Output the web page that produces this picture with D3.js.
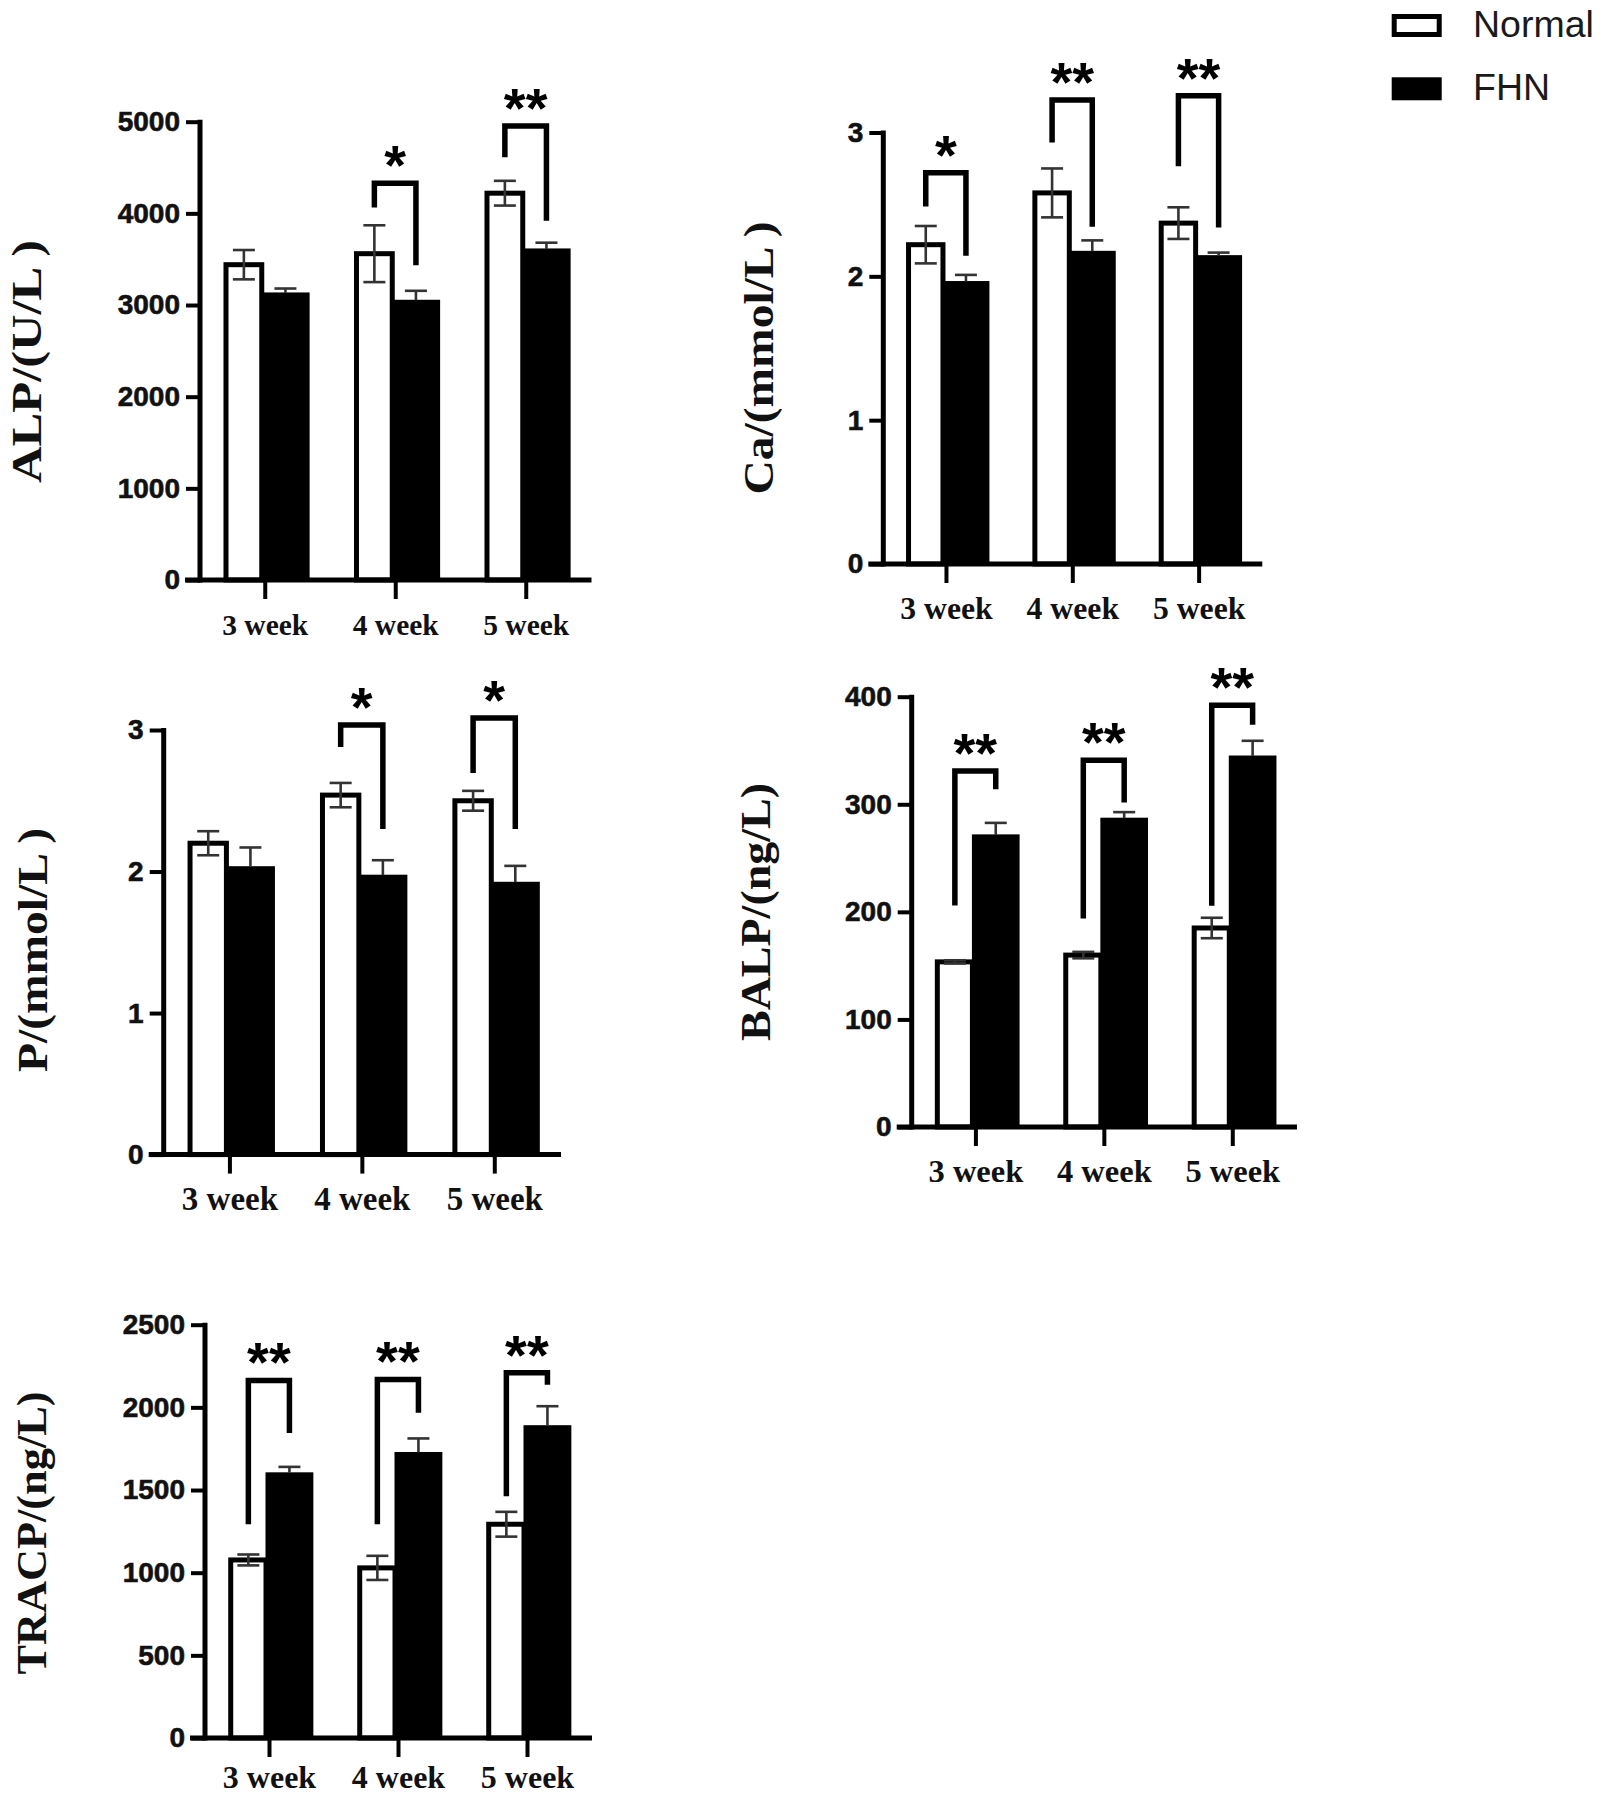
<!DOCTYPE html>
<html>
<head>
<meta charset="utf-8">
<script src="https://cdn.jsdelivr.net/npm/d3@7"></script>
<style>
  html, body { margin: 0; padding: 0; background: #fff; }
  svg { display: block; }
</style>
</head>
<body>
<div id="chart"></div>
<script>
// ---------- DATA ----------
const categories = ["3 week", "4 week", "5 week"];
const seriesNames = ["Normal", "FHN"];

const alpNormal = [3440, 3560, 4220];
const alpNormalErr = [160, 310, 135];
const alpFHN = [3110, 3030, 3590];
const alpFHNErr = [70, 125, 90];
const alpTicks = [0, 1000, 2000, 3000, 4000, 5000];
const alpSig = [
  { cat: 1, label: "*",  top: 4329, left: 4065, right: 3435 },
  { cat: 2, label: "**", top: 4953, left: 4611, right: 3920 }
];

const caNormal = [2.22, 2.58, 2.37];
const caNormalErr = [0.13, 0.17, 0.11];
const caFHN = [1.95, 2.16, 2.13];
const caFHNErr = [0.06, 0.09, 0.035];
const caTicks = [0, 1, 2, 3];
const caSig = [
  { cat: 0, label: "*",  top: 2.72,  left: 2.486, right: 2.143 },
  { cat: 1, label: "**", top: 3.226, left: 2.93,  right: 2.345 },
  { cat: 2, label: "**", top: 3.255, left: 2.765, right: 2.34 }
];

const pNormal = [2.20, 2.54, 2.50];
const pNormalErr = [0.085, 0.086, 0.07];
const pFHN = [2.02, 1.96, 1.91];
const pFHNErr = [0.15, 0.12, 0.13];
const pTicks = [0, 1, 2, 3];
const pSig = [
  { cat: 1, label: "*", top: 3.035, left: 2.88,  right: 2.3 },
  { cat: 2, label: "*", top: 3.084, left: 2.696, right: 2.3 }
];

const balpNormal = [153.5, 159.8, 185];
const balpNormalErr = [1.5, 3, 9.5];
const balpFHN = [269.7, 285.2, 343];
const balpFHNErr = [13, 7.5, 16];
const balpTicks = [0, 100, 200, 300, 400];
const balpSig = [
  { cat: 0, label: "**", top: 331, left: 206,   right: 314 },
  { cat: 1, label: "**", top: 341, left: 193.8, right: 301.7 },
  { cat: 2, label: "**", top: 392, left: 205.6, right: 374 }
];

const tracpNormal = [1077, 1029, 1293];
const tracpNormalErr = [33, 73, 75];
const tracpFHN = [1592, 1715, 1877];
const tracpFHNErr = [48, 97, 130];
const tracpTicks = [0, 500, 1000, 1500, 2000, 2500];
const tracpSig = [
  { cat: 0, label: "**", top: 2163, left: 1293, right: 1845 },
  { cat: 1, label: "**", top: 2169, left: 1293, right: 1968 },
  { cat: 2, label: "**", top: 2210, left: 1462, right: 2137 }
];

// ---------- PANELS (layout) ----------
const panels = [
  { title: "ALP/(U/L )", normal: alpNormal, nErr: alpNormalErr, fhn: alpFHN, fErr: alpFHNErr, ticks: alpTicks, sig: alpSig,
    x0: 200, x1: 591.5, yTop: 121.7, yBot: 580, lx: 26.5, ly: 361.5, lLen: 243, catFs: 29.5, catY: 55 },
  { title: "Ca/(mmol/L )", normal: caNormal, nErr: caNormalErr, fhn: caFHN, fErr: caFHNErr, ticks: caTicks, sig: caSig,
    x0: 883.3, x1: 1262.3, yTop: 132.5, yBot: 564, lx: 759, ly: 358, lLen: 273, catFs: 31.7, catY: 55 },
  { title: "P/(mmol/L )", normal: pNormal, nErr: pNormalErr, fhn: pFHN, fErr: pFHNErr, ticks: pTicks, sig: pSig,
    x0: 163.7, x1: 561, yTop: 730, yBot: 1154.6, lx: 33, ly: 950, lLen: 244, catFs: 33, catY: 55 },
  { title: "BALP/(ng/L)", normal: balpNormal, nErr: balpNormalErr, fhn: balpFHN, fErr: balpFHNErr, ticks: balpTicks, sig: balpSig,
    x0: 911.7, x1: 1297, yTop: 696.7, yBot: 1127, lx: 756, ly: 912, lLen: 258, catFs: 32.5, catY: 55 },
  { title: "TRACP/(ng/L)", normal: tracpNormal, nErr: tracpNormalErr, fhn: tracpFHN, fErr: tracpFHNErr, ticks: tracpTicks, sig: tracpSig,
    x0: 205, x1: 592, yTop: 1324.7, yBot: 1738, lx: 31.5, ly: 1533, lLen: 283, catFs: 32, catY: 50 }
];

const W = 1600, H = 1798;
const svg = d3.select("#chart").append("svg").attr("width", W).attr("height", H);

const AXIS_W = 5, YTICK = 14, XTICK = 19;
const sansBold = "'Liberation Sans', Arial, sans-serif";
const serif = "'Liberation Serif', 'Times New Roman', serif";

panels.forEach(p => {
  const g = svg.append("g");
  const y = d3.scaleLinear().domain([0, p.ticks[p.ticks.length - 1]]).range([p.yBot, p.yTop]);
  const x = d3.scaleBand().domain(categories).range([p.x0, p.x1]).paddingInner(0).paddingOuter(0);
  const step = x.step();
  const xs = d3.scaleBand().domain(seriesNames).range([-0.32 * step, 0.34 * step]);
  const bw = xs.bandwidth();
  const ctr = c => x(c) + x.bandwidth() / 2;

  // bar geometry (outer edges) per category
  const geom = c => {
    const t = ctr(c);
    const nL = t + xs("Normal"), nR = t - 1;
    const fL = t - 4, fR = t + xs("FHN") + bw;
    return { nL, nR, fL, fR, nC: (nL + nR) / 2, fC: (fL + fR) / 2 };
  };

  const SW = 5;
  categories.forEach((c, i) => {
    const gm = geom(c);
    const vn = p.normal[i], vf = p.fhn[i];
    g.append("rect")
      .attr("x", gm.nL + SW / 2).attr("y", y(vn) + SW / 2 - 2.5)
      .attr("width", gm.nR - gm.nL - SW).attr("height", y(0) - y(vn))
      .attr("fill", "#fff").attr("stroke", "#000").attr("stroke-width", SW);
    g.append("rect")
      .attr("x", gm.fL).attr("y", y(vf) - 2.5)
      .attr("width", gm.fR - gm.fL).attr("height", y(0) - y(vf) + 2.5)
      .attr("fill", "#000");

    // error bars
    const eg = g.append("g").attr("stroke", "#333").attr("stroke-width", 2.6).attr("fill", "none");
    const en = p.nErr[i], ef = p.fErr[i];
    eg.append("line").attr("x1", gm.nC).attr("x2", gm.nC).attr("y1", y(vn + en)).attr("y2", y(vn - en));
    eg.append("line").attr("x1", gm.nC - 11).attr("x2", gm.nC + 11).attr("y1", y(vn + en)).attr("y2", y(vn + en));
    eg.append("line").attr("x1", gm.nC - 11).attr("x2", gm.nC + 11).attr("y1", y(vn - en)).attr("y2", y(vn - en));
    eg.append("line").attr("x1", gm.fC).attr("x2", gm.fC).attr("y1", y(vf + ef)).attr("y2", y(vf) - 2);
    eg.append("line").attr("x1", gm.fC - 11).attr("x2", gm.fC + 11).attr("y1", y(vf + ef)).attr("y2", y(vf + ef));
  });

  // y axis
  const yAxis = d3.axisLeft(y).tickValues(p.ticks).tickSize(YTICK).tickSizeOuter(0).tickPadding(6)
    .tickFormat(d3.format("d"));
  const ya = g.append("g").attr("transform", `translate(${p.x0},0)`).call(yAxis);
  ya.select(".domain").attr("stroke", "#000").attr("stroke-width", AXIS_W)
    .attr("d", `M0,${p.yBot + AXIS_W / 2}V${p.yTop - 2}`);
  ya.selectAll(".tick line").attr("stroke", "#000").attr("stroke-width", 4);
  ya.selectAll(".tick text").attr("font-family", sansBold).attr("font-weight", "bold")
    .attr("font-size", 28).attr("fill", "#111").attr("stroke", "#111").attr("stroke-width", 0.6);

  // x axis
  const xAxis = d3.axisBottom(x).tickSize(XTICK).tickSizeOuter(0);
  const xa = g.append("g").attr("transform", `translate(0,${p.yBot})`).call(xAxis);
  xa.select(".domain").attr("stroke", "#000").attr("stroke-width", AXIS_W)
    .attr("d", `M${p.x0 - YTICK - 1},0H${p.x1}`);
  xa.selectAll(".tick line").attr("stroke", "#000").attr("stroke-width", 4);
  xa.selectAll(".tick text").attr("font-family", serif).attr("font-weight", "bold")
    .attr("font-size", p.catFs).attr("fill", "#111").attr("y", p.catY).attr("dy", 0);

  // y label
  g.append("text")
    .attr("transform", `translate(${p.lx},${p.ly}) rotate(-90)`)
    .attr("text-anchor", "middle").attr("dominant-baseline", "central")
    .attr("font-family", serif).attr("font-weight", "bold").attr("font-size", 42)
    .attr("textLength", p.lLen).attr("lengthAdjust", "spacingAndGlyphs")
    .attr("fill", "#111")
    .style("white-space", "pre")
    .text(p.title);

  // significance brackets
  p.sig.forEach(s => {
    const gm = geom(categories[s.cat]);
    const xl = gm.nC, xr = gm.fC;
    g.append("path")
      .attr("d", `M${xl},${y(s.left)}V${y(s.top)}H${xr}V${y(s.right)}`)
      .attr("fill", "none").attr("stroke", "#000").attr("stroke-width", 5.5)
      .attr("stroke-linejoin", "miter").attr("stroke-linecap", "butt");
    const fs = 56;
    g.append("text")
      .attr("x", (xl + xr) / 2).attr("y", y(s.top) - 31 + 0.57 * fs)
      .attr("text-anchor", "middle")
      .attr("font-family", sansBold).attr("font-weight", "bold").attr("font-size", fs)
      .attr("fill", "#000")
      .text(s.label);
  });
});

// ---------- LEGEND ----------
const legend = svg.append("g");
const legendColors = ["#fff", "#000"];
const legendY = [14, 77.3];
seriesNames.forEach((s, i) => {
  legend.append("rect")
    .attr("x", 1394.2).attr("y", legendY[i] + 2.5)
    .attr("width", 45).attr("height", 18)
    .attr("fill", legendColors[i]).attr("stroke", "#000").attr("stroke-width", 5);
  legend.append("text")
    .attr("x", 1473).attr("y", legendY[i] + 22.8)
    .attr("font-family", "'Liberation Sans', Arial, sans-serif").attr("font-size", 37.5)
    .attr("fill", "#1a1a1a")
    .text(s);
});
</script>
</body>
</html>
